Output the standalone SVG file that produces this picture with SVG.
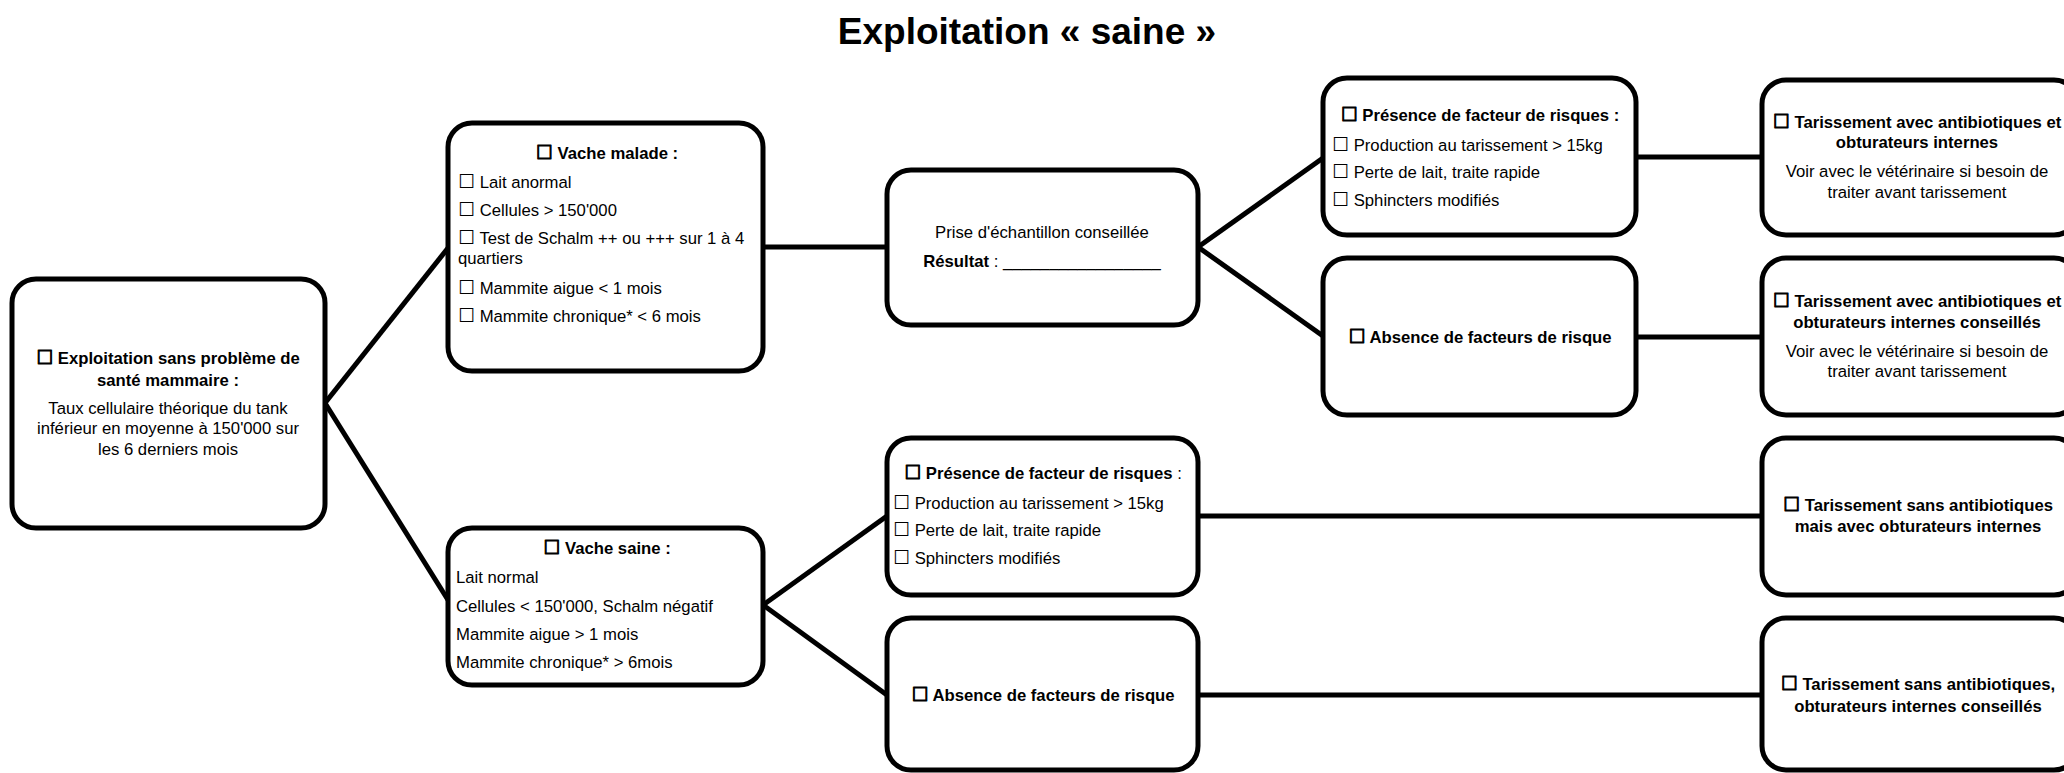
<svg xmlns="http://www.w3.org/2000/svg" width="2064" height="773" viewBox="0 0 2064 773">
<style>
.box{fill:#fff;stroke:#000;stroke-width:5}
.con{stroke:#000;stroke-width:5;fill:none;stroke-linecap:butt}
text{font-family:"Liberation Sans",Arial,sans-serif;font-size:16.7px;fill:#000}
.b{font-weight:bold}
.c{text-anchor:middle}
.cb{font-family:"DejaVu Sans",sans-serif;font-size:19px}
.b .cb{stroke:#000;stroke-width:0.9}
.title{font-size:37px;font-weight:bold}
</style>
<rect width="2064" height="773" fill="#fff"/>
<text class="title c" x="1027" y="44">Exploitation « saine »</text>
<g id="connectors">
<line class="con" x1="325" y1="403" x2="448" y2="248"/>
<line class="con" x1="325" y1="403" x2="448" y2="600"/>
<line class="con" x1="763" y1="247" x2="887" y2="247"/>
<line class="con" x1="1198" y1="247" x2="1323" y2="158"/>
<line class="con" x1="1198" y1="247" x2="1323" y2="336"/>
<line class="con" x1="1636" y1="157" x2="1762" y2="157"/>
<line class="con" x1="1636" y1="337" x2="1762" y2="337"/>
<line class="con" x1="763" y1="605" x2="887" y2="516"/>
<line class="con" x1="763" y1="605" x2="887" y2="695"/>
<line class="con" x1="1198" y1="516" x2="1762" y2="516"/>
<line class="con" x1="1198" y1="695" x2="1762" y2="695"/>
</g>
<g id="n1">
<rect class="box" x="12" y="279" width="313" height="249" rx="24"/>
<text class="c b" x="168" y="364"><tspan class="cb">☐</tspan> Exploitation sans problème de</text>
<text class="c b" x="168" y="386">santé mammaire :</text>
<text class="c" x="168" y="414">Taux cellulaire théorique du tank</text>
<text class="c" x="168" y="434">inférieur en moyenne à 150'000 sur</text>
<text class="c" x="168" y="455">les 6 derniers mois</text>
</g>
<g id="n2">
<rect class="box" x="448" y="123" width="315" height="248" rx="24"/>
<text class="c b" x="607" y="159"><tspan class="cb">☐</tspan> Vache malade :</text>
<text x="458" y="188"><tspan class="cb">☐</tspan> Lait anormal</text>
<text x="458" y="216"><tspan class="cb">☐</tspan> Cellules &gt; 150'000</text>
<text x="458" y="244"><tspan class="cb">☐</tspan> Test de Schalm ++ ou +++ sur 1 à 4</text>
<text x="458" y="264">quartiers</text>
<text x="458" y="294"><tspan class="cb">☐</tspan> Mammite aigue &lt; 1 mois</text>
<text x="458" y="322"><tspan class="cb">☐</tspan> Mammite chronique* &lt; 6 mois</text>
</g>
<g id="n3">
<rect class="box" x="887" y="170" width="311" height="155" rx="24"/>
<text class="c" x="1042" y="238">Prise d'échantillon conseillée</text>
<text class="c" x="1042" y="267"><tspan class="b">Résultat</tspan> : _________________</text>
</g>
<g id="n4">
<rect class="box" x="1323" y="78" width="313" height="157" rx="24"/>
<text class="c b" x="1480" y="121"><tspan class="cb">☐</tspan> Présence de facteur de risques :</text>
<text x="1332" y="151"><tspan class="cb">☐</tspan> Production au tarissement &gt; 15kg</text>
<text x="1332" y="178"><tspan class="cb">☐</tspan> Perte de lait, traite rapide</text>
<text x="1332" y="206"><tspan class="cb">☐</tspan> Sphincters modifiés</text>
</g>
<g id="n5">
<rect class="box" x="1323" y="258" width="313" height="157" rx="24"/>
<text class="c b" x="1480" y="343"><tspan class="cb">☐</tspan> Absence de facteurs de risque</text>
</g>
<g id="n6">
<rect class="box" x="1762" y="80" width="316" height="155" rx="24"/>
<text class="c b" x="1917" y="128"><tspan class="cb">☐</tspan> Tarissement avec antibiotiques et</text>
<text class="c b" x="1917" y="148">obturateurs internes</text>
<text class="c" x="1917" y="177">Voir avec le vétérinaire si besoin de</text>
<text class="c" x="1917" y="198">traiter avant tarissement</text>
</g>
<g id="n7">
<rect class="box" x="1762" y="258" width="316" height="157" rx="24"/>
<text class="c b" x="1917" y="307"><tspan class="cb">☐</tspan> Tarissement avec antibiotiques et</text>
<text class="c b" x="1917" y="328">obturateurs internes conseillés</text>
<text class="c" x="1917" y="357">Voir avec le vétérinaire si besoin de</text>
<text class="c" x="1917" y="377">traiter avant tarissement</text>
</g>
<g id="n8">
<rect class="box" x="448" y="528" width="315" height="157" rx="24"/>
<text class="c b" x="607" y="554"><tspan class="cb">☐</tspan> Vache saine :</text>
<text x="456" y="583">Lait normal</text>
<text x="456" y="612">Cellules &lt; 150'000, Schalm négatif</text>
<text x="456" y="640">Mammite aigue &gt; 1 mois</text>
<text x="456" y="668">Mammite chronique* &gt; 6mois</text>
</g>
<g id="n9">
<rect class="box" x="887" y="438" width="311" height="157" rx="24"/>
<text class="c" x="1043" y="479"><tspan class="b"><tspan class="cb">☐</tspan> Présence de facteur de risques</tspan> :</text>
<text x="893" y="509"><tspan class="cb">☐</tspan> Production au tarissement &gt; 15kg</text>
<text x="893" y="536"><tspan class="cb">☐</tspan> Perte de lait, traite rapide</text>
<text x="893" y="564"><tspan class="cb">☐</tspan> Sphincters modifiés</text>
</g>
<g id="n10">
<rect class="box" x="887" y="618" width="311" height="152" rx="24"/>
<text class="c b" x="1043" y="701"><tspan class="cb">☐</tspan> Absence de facteurs de risque</text>
</g>
<g id="n11">
<rect class="box" x="1762" y="438" width="316" height="157" rx="24"/>
<text class="c b" x="1918" y="511"><tspan class="cb">☐</tspan> Tarissement sans antibiotiques</text>
<text class="c b" x="1918" y="532">mais avec obturateurs internes</text>
</g>
<g id="n12">
<rect class="box" x="1762" y="618" width="316" height="152" rx="24"/>
<text class="c b" x="1918" y="690"><tspan class="cb">☐</tspan> Tarissement sans antibiotiques,</text>
<text class="c b" x="1918" y="712">obturateurs internes conseillés</text>
</g>
</svg>
